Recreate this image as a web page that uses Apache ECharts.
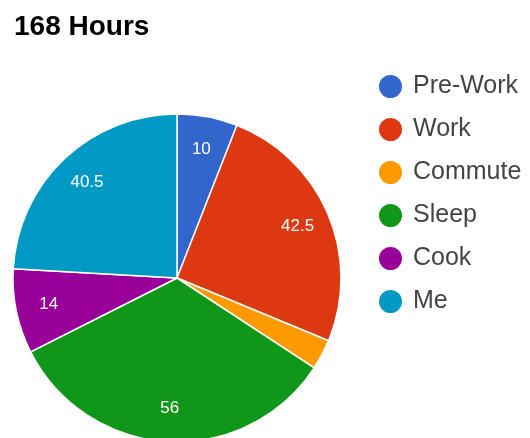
<!DOCTYPE html>
<html><head><meta charset="utf-8">
<script src="https://cdn.jsdelivr.net/npm/echarts@6/dist/echarts.min.js"></script>
<style>html,body{margin:0;padding:0;background:#fff}#c{width:530px;height:438px}</style>
</head><body><div id="c"></div>
<script>
var categories = ['Pre-Work', 'Work', 'Commute', 'Sleep', 'Cook', 'Me'];
var hours = [10, 42.5, 5, 56, 14, 40.5];
var colors = ['#3366cc', '#dc3912', '#ff9900', '#109618', '#990099', '#0099c6'];

var data = categories.map(function (c, i) { return { name: c, value: hours[i] }; });

var chart = echarts.init(document.getElementById('c'), null, { renderer: 'canvas' });
chart.setOption({
  backgroundColor: '#ffffff',
  color: colors,
  animation: false,
  title: {
    text: '168 Hours', left: 9, top: 8,
    textStyle: { fontFamily: 'Arial', fontWeight: 'bold', fontSize: 28, color: '#000' }
  },
  legend: {
    orient: 'vertical', left: 372, top: 68,
    icon: 'circle', itemWidth: 25, itemHeight: 25, itemGap: 16,
    data: categories,
    textStyle: { fontFamily: 'Arial', fontSize: 25, color: '#444', padding: [0, 0, 0, 5] }
  },
  series: [{
    type: 'pie', center: [177, 278], radius: [0, 164],
    startAngle: 90, clockwise: true, silent: true,
    itemStyle: { borderColor: '#fff', borderWidth: 1.5 },
    label: { show: false }, labelLine: { show: false },
    data: data
  }, {
    type: 'pie', center: [177, 278], radius: [92, 164],
    startAngle: 90, clockwise: true, silent: true,
    itemStyle: { color: 'rgba(0,0,0,0)' },
    label: { show: true, position: 'inside',
      formatter: function (p) { return p.percent < 5 ? '' : String(p.value); },
      fontFamily: 'Arial', fontSize: 17, color: '#fff' },
    labelLine: { show: false },
    data: data
  }]
});
</script></body></html>
